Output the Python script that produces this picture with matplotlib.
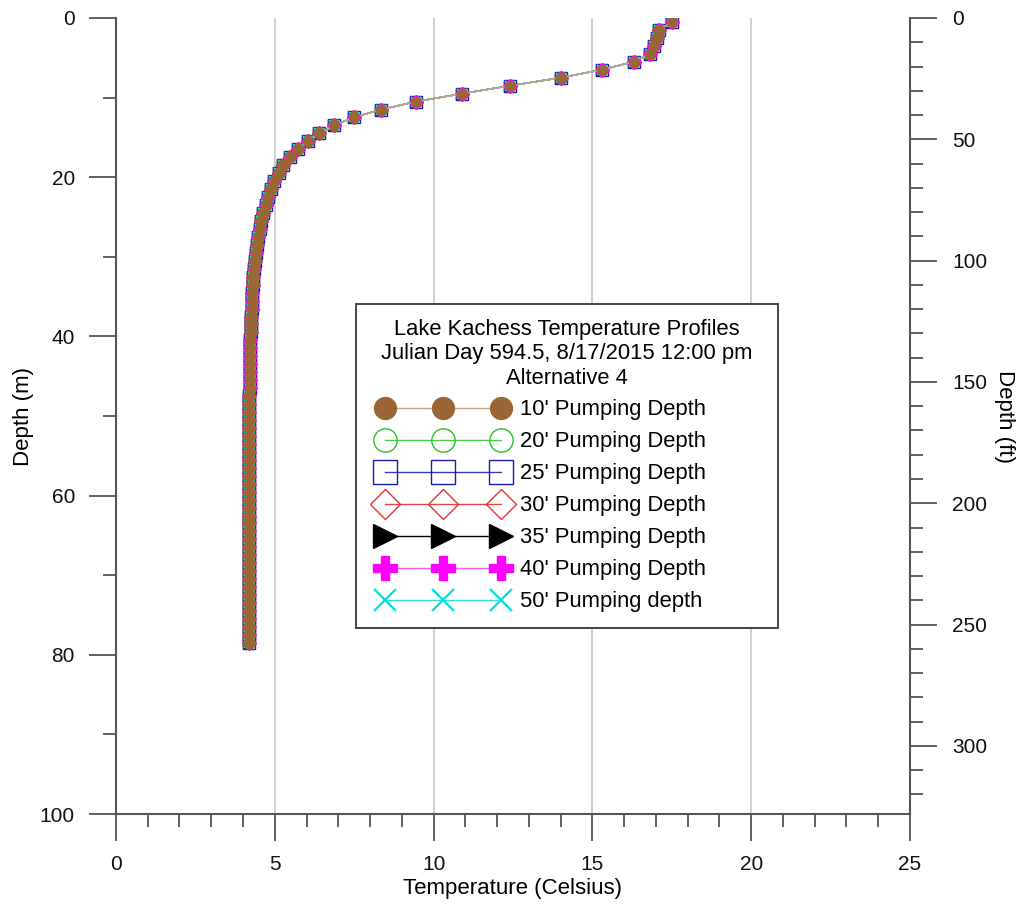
import matplotlib
matplotlib.use("Agg")
import matplotlib.pyplot as plt
from matplotlib.ticker import MultipleLocator
from matplotlib.lines import Line2D
from matplotlib.legend_handler import HandlerLine2D

plt.rcParams['font.family'] = ['Liberation Sans', 'DejaVu Sans']

# depth of each model layer (m)
depth_m = [0.5, 1.5, 2.5, 3.5, 4.5, 5.5, 6.5, 7.5, 8.5, 9.5,
           10.5, 11.5, 12.5, 13.5, 14.5, 15.5, 16.5, 17.5, 18.5, 19.5,
           20.5, 21.5, 22.5, 23.5, 24.5, 25.5, 26.5, 27.5, 28.5, 29.5,
           30.5, 31.5, 32.5, 33.5, 34.5, 35.5, 36.5, 37.5, 38.5, 39.5,
           40.5, 41.5, 42.5, 43.5, 44.5, 45.5, 46.5, 47.5, 48.5, 49.5,
           50.5, 51.5, 52.5, 53.5, 54.5, 55.5, 56.5, 57.5, 58.5, 59.5,
           60.5, 61.5, 62.5, 63.5, 64.5, 65.5, 66.5, 67.5, 68.5, 69.5,
           70.5, 71.5, 72.5, 73.5, 74.5, 75.5, 76.5, 77.5, 78.5]

# temperature profile (Celsius) - all pumping depths overlap in the figure
temp_c = [17.50, 17.10, 17.02, 16.95, 16.82, 16.30, 15.30, 14.00, 12.42, 10.90,
          9.45, 8.35, 7.48, 6.86, 6.40, 6.04, 5.74, 5.48, 5.27, 5.12,
          4.99, 4.88, 4.79, 4.71, 4.64, 4.58, 4.53, 4.48, 4.44, 4.41,
          4.38, 4.35, 4.33, 4.31, 4.29, 4.28, 4.27, 4.26, 4.25, 4.24,
          4.23, 4.23, 4.22, 4.22, 4.21, 4.21, 4.21, 4.20, 4.20, 4.20,
          4.20, 4.20, 4.20, 4.20, 4.20, 4.20, 4.20, 4.20, 4.20, 4.20,
          4.20, 4.20, 4.20, 4.19, 4.19, 4.19, 4.19, 4.19, 4.19, 4.19,
          4.19, 4.19, 4.19, 4.19, 4.19, 4.19, 4.19, 4.19, 4.19]

series_labels = ["10' Pumping Depth", "20' Pumping Depth", "25' Pumping Depth",
                 "30' Pumping Depth", "35' Pumping Depth", "40' Pumping Depth",
                 "50' Pumping depth"]
series_temps = [temp_c, temp_c, temp_c, temp_c, temp_c, temp_c, temp_c]

styles = [
    dict(marker='o', mfc='#9a6636', mec='#9a6636', color='#c9a47f', ms=7.5, mew=1.0),
    dict(marker='o', mfc='none', mec='#2cbf2c', color='#4ccc4c', ms=8, mew=1.0),
    dict(marker='s', mfc='none', mec='#1c1ca8', color='#3a3abf', ms=8.5, mew=1.0),
    dict(marker='D', mfc='none', mec='#e03434', color='#e04848', ms=7.5, mew=1.0),
    dict(marker='>', mfc='black', mec='black', color='black', ms=8, mew=1.0),
    dict(marker='P', mfc='#ff00ff', mec='#ff00ff', color='#f060f0', ms=8, mew=1.0),
    dict(marker='x', mfc='#00e0e0', mec='#00e0e0', color='#30e0e0', ms=7.5, mew=1.6),
]
zorders = [10, 6, 4, 5, 3, 7, 8]

fig = plt.figure(figsize=(10.19, 9.09), dpi=100)
ax = fig.add_axes([0.1138, 0.1045, 0.7792, 0.8757])

for lab, t, st, z in zip(series_labels, series_temps, styles, zorders):
    ax.plot(t, depth_m, label=lab, lw=1.0, zorder=z, **st)

spine_col = '#555555'
ax.set_xlim(0, 25)
ax.set_ylim(100, 0)
ax.xaxis.set_major_locator(MultipleLocator(5))
ax.xaxis.set_minor_locator(MultipleLocator(1))
ax.yaxis.set_major_locator(MultipleLocator(20))
ax.yaxis.set_minor_locator(MultipleLocator(10))
ax.tick_params(which='major', direction='out', length=19.5, width=1.3, color=spine_col,
               labelsize=15, labelcolor='#111111', pad=10)
ax.tick_params(which='minor', direction='out', length=9.5, width=1.3, color=spine_col)
ax.grid(axis='x', which='major', color='#cccccc', lw=1.3)
ax.set_axisbelow(True)
for s in ['top', 'right']:
    ax.spines[s].set_visible(False)
for s in ['left', 'bottom']:
    ax.spines[s].set_color(spine_col)
    ax.spines[s].set_linewidth(1.5)
ax.set_xlabel('Temperature (Celsius)', fontsize=16, labelpad=3)
ax.set_ylabel('Depth (m)', fontsize=16, labelpad=4)

# feet on the right
ax2 = ax.twinx()
ax2.set_ylim(100 / 0.3048, 0)
ax2.yaxis.set_major_locator(MultipleLocator(50))
ax2.yaxis.set_minor_locator(MultipleLocator(10))
ax2.tick_params(which='major', direction='out', length=19.5, width=1.3, color=spine_col,
                labelsize=15, labelcolor='#111111', pad=11)
ax2.tick_params(which='minor', direction='out', length=9.5, width=1.3, color=spine_col)
for s in ['top', 'left', 'bottom']:
    ax2.spines[s].set_visible(False)
ax2.spines['right'].set_color(spine_col)
ax2.spines['right'].set_linewidth(1.5)
ax2.set_ylabel('Depth (ft)', fontsize=16, rotation=270, labelpad=20)

handles, labels = ax.get_legend_handles_labels()
leg = ax.legend(handles, labels,
                title='Lake Kachess Temperature Profiles\nJulian Day 594.5, 8/17/2015 12:00 pm\nAlternative 4',
                title_fontsize=15.8, fontsize=15.8, loc='upper left',
                bbox_to_anchor=(0.302, 0.239, 0.5315, 0.402), mode='expand',
                handler_map={Line2D: HandlerLine2D(marker_pad=0.65, numpoints=3)},
                markerscale=2.1, handlelength=6.55, handletextpad=0.22,
                labelspacing=0.5, borderpad=0.7, borderaxespad=0, alignment='center',
                fancybox=False, framealpha=1, edgecolor='#444444')
leg.get_frame().set_linewidth(1.4)
leg.get_title().set_multialignment('center')
leg.set_zorder(20)

fig.savefig('out.png', dpi=100)
